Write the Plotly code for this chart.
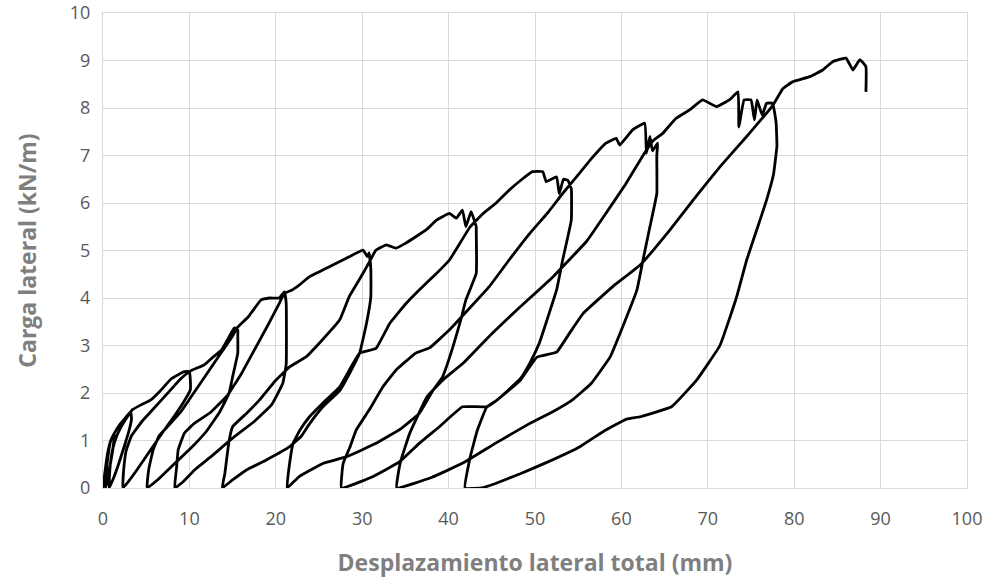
import plotly.graph_objects as go

# ---- data (mm, kN/m), in test order ----
start_x = [0.0, 0.2, 0.5, 0.9, 1.3]
start_y = [0.0, 0.3, 0.7, 1.0, 1.15]
unload0_x = [1.2, 0.9, 0.6, 0.3]
unload0_y = [0.9, 0.55, 0.25, 0.0]
reload0_x = [0.4, 0.6, 0.9, 1.3]
reload0_y = [0.35, 0.7, 1.0, 1.15]
env0_x = [2.0, 2.7, 3.2]
env0_y = [1.35, 1.5, 1.61]
unload1_x = [3.3, 3.0, 2.5, 1.8, 1.2, 0.7]
unload1_y = [1.45, 1.2, 0.9, 0.5, 0.2, 0.0]
reload1_x = [0.8, 1.1, 1.6, 2.3, 3.0, 3.2]
reload1_y = [0.4, 0.8, 1.1, 1.35, 1.55, 1.6]
env1_x = [3.4, 4.4, 5.5, 6.7, 7.9, 9.4, 10.0]
env1_y = [1.65, 1.75, 1.85, 2.06, 2.3, 2.45, 2.45]
unload2_x = [10.1, 10.1, 9.3, 8.2, 7.1, 5.5, 4.0, 3.0, 2.3]
unload2_y = [2.3, 2.06, 1.8, 1.5, 1.22, 0.8, 0.4, 0.15, 0.0]
reload2_x = [2.4, 2.7, 3.3, 4.5, 6.0, 7.5, 9.0, 10.0]
reload2_y = [0.4, 0.8, 1.1, 1.4, 1.7, 2.0, 2.3, 2.45]
env2_x = [10.8, 11.7, 12.7, 13.7, 14.5, 15.2, 15.6]
env2_y = [2.52, 2.59, 2.75, 2.9, 3.15, 3.37, 3.33]
unload3_x = [15.6, 15.6, 15.0, 14.6, 13.5, 12.0, 10.5, 8.5, 6.5, 5.1]
unload3_y = [3.2, 2.84, 2.34, 2.0, 1.6, 1.2, 0.9, 0.55, 0.2, 0.0]
reload3_x = [5.3, 5.8, 6.5, 7.5, 9.0, 10.5, 12.0, 13.5, 15.0, 15.5]
reload3_y = [0.4, 0.8, 1.1, 1.3, 1.6, 2.0, 2.4, 2.8, 3.2, 3.37]
env3_x = [16.8, 18.3, 19.3, 20.4, 21.0]
env3_y = [3.6, 3.96, 4.0, 4.0, 4.13]
unload4_x = [21.2, 21.2, 20.8, 19.5, 17.5, 15.2, 12.5, 10.6, 9.2, 8.3]
unload4_y = [3.9, 2.6, 2.2, 1.75, 1.4, 1.08, 0.66, 0.38, 0.12, 0.0]
reload4_x = [8.5, 8.7, 9.4, 10.5, 12.5, 14.4, 16.0, 17.5, 19.0, 20.3, 21.0]
reload4_y = [0.4, 0.8, 1.15, 1.35, 1.6, 1.95, 2.4, 2.9, 3.4, 3.85, 4.1]
env4_x = [21.9, 22.7, 23.9, 25.0, 26.2, 28.5, 30.1, 30.6, 30.8]
env4_y = [4.17, 4.27, 4.45, 4.55, 4.66, 4.87, 5.01, 4.87, 4.95]
unload5_x = [31.0, 31.0, 30.5, 29.7, 28.5, 27.4, 25.4, 23.9, 23.0, 21.6, 18.9, 16.6, 15.0, 13.8]
unload5_y = [4.6, 4.03, 3.47, 2.84, 2.4, 2.05, 1.7, 1.35, 1.1, 0.87, 0.59, 0.38, 0.17, 0.0]
reload5_x = [14.1, 14.3, 14.6, 15.0, 16.6, 18.1, 20.0, 21.6, 23.5, 25.4, 27.4, 28.5, 30.1, 30.8]
reload5_y = [0.3, 0.59, 1.0, 1.29, 1.57, 1.85, 2.27, 2.55, 2.76, 3.12, 3.54, 4.03, 4.52, 4.75]
env5_x = [31.6, 32.8, 33.9, 35.0, 36.2, 37.5, 38.6, 40.1, 40.9, 41.6, 42.0, 42.6, 43.2]
env5_y = [5.01, 5.12, 5.05, 5.15, 5.29, 5.45, 5.64, 5.78, 5.68, 5.85, 5.5, 5.82, 5.5]
unload6_x = [43.2, 43.2, 42.0, 41.5, 40.5, 39.3, 38.2, 36.6, 34.5, 31.6, 28.2, 25.5, 22.7, 21.3]
unload6_y = [5.4, 4.52, 3.96, 3.6, 2.97, 2.34, 2.06, 1.57, 1.25, 0.94, 0.66, 0.52, 0.24, 0.0]
reload6_x = [21.6, 22.0, 22.8, 23.9, 25.4, 27.4, 28.5, 29.7, 31.6, 33.2, 35.1, 36.6, 38.5, 40.1, 42.5]
reload6_y = [0.52, 0.94, 1.22, 1.5, 1.78, 2.13, 2.48, 2.84, 2.94, 3.47, 3.89, 4.17, 4.5, 4.8, 5.5]
env6_x = [44.0, 45.5, 47.0, 48.5, 49.7, 50.9, 51.3, 52.5, 52.8, 53.3, 53.8]
env6_y = [5.78, 6.0, 6.27, 6.5, 6.66, 6.66, 6.45, 6.55, 6.2, 6.5, 6.48]
unload7_x = [54.2, 54.2, 53.2, 52.5, 51.5, 50.5, 49.4, 48.3, 45.6, 44.4, 41.6, 39.0, 36.6, 34.3, 31.0, 27.6]
unload7_y = [6.3, 5.64, 4.8, 4.17, 3.6, 3.05, 2.63, 2.3, 1.85, 1.71, 1.71, 1.3, 0.94, 0.55, 0.22, 0.0]
reload7_x = [27.8, 28.6, 29.3, 30.8, 32.4, 33.9, 36.2, 37.8, 40.1, 42.5, 44.7, 47.0, 49.4, 51.5, 53.2]
reload7_y = [0.52, 0.87, 1.22, 1.64, 2.13, 2.48, 2.84, 2.95, 3.33, 3.8, 4.24, 4.8, 5.36, 5.8, 6.2]
env7_x = [54.8, 56.7, 58.2, 59.4, 59.8, 61.3, 62.7, 62.9, 63.3, 63.6, 64.2]
env7_y = [6.55, 6.97, 7.26, 7.36, 7.22, 7.54, 7.68, 7.05, 7.4, 7.1, 7.26]
unload8_x = [64.1, 64.1, 63.3, 62.5, 61.8, 60.6, 58.7, 56.5, 54.3, 52.0, 49.4, 45.5, 41.7, 38.0, 34.0]
unload8_y = [7.0, 6.2, 5.5, 4.8, 4.17, 3.6, 2.76, 2.2, 1.85, 1.6, 1.36, 0.95, 0.53, 0.22, 0.0]
reload8_x = [34.4, 35.5, 37.5, 39.5, 41.7, 45.0, 48.2, 52.1, 56.0, 57.9, 60.5, 62.5, 63.6]
reload8_y = [0.53, 1.15, 1.92, 2.3, 2.63, 3.25, 3.8, 4.45, 5.2, 5.7, 6.4, 7.0, 7.3]
env8_x = [64.8, 66.3, 67.9, 69.4, 71.0, 72.5, 73.5, 73.6, 74.2, 75.0, 75.4, 75.7, 76.3, 76.8, 77.5]
env8_y = [7.47, 7.78, 7.96, 8.17, 8.03, 8.17, 8.34, 7.6, 8.17, 8.17, 7.75, 8.17, 7.85, 8.1, 8.1]
unload9_x = [77.9, 78.0, 77.6, 76.8, 75.6, 74.5, 73.3, 71.4, 68.7, 65.8, 62.2, 60.6, 58.0, 55.2, 51.5, 48.3, 45.5, 43.8, 41.9]
unload9_y = [7.7, 7.2, 6.6, 6.06, 5.4, 4.8, 4.0, 3.0, 2.27, 1.71, 1.5, 1.45, 1.2, 0.87, 0.55, 0.3, 0.1, 0.0, 0.0]
reload9_x = [42.5, 43.3, 44.4, 45.6, 48.3, 50.2, 52.5, 54.0, 55.6, 59.0, 62.2, 65.6, 68.3, 71.4, 74.5, 77.5]
reload9_y = [0.65, 1.2, 1.7, 1.85, 2.27, 2.75, 2.86, 3.26, 3.68, 4.24, 4.7, 5.43, 6.06, 6.76, 7.4, 8.05]
env9_x = [78.7, 79.8, 81.8, 83.3, 84.5, 86.0, 86.8, 87.6, 88.3, 88.3]
env9_y = [8.41, 8.55, 8.66, 8.8, 8.98, 9.05, 8.8, 9.02, 8.87, 8.34]

segments_x = [start_x, unload0_x, reload0_x, env0_x, unload1_x, reload1_x, env1_x,
              unload2_x, reload2_x, env2_x, unload3_x, reload3_x, env3_x,
              unload4_x, reload4_x, env4_x, unload5_x, reload5_x, env5_x,
              unload6_x, reload6_x, env6_x, unload7_x, reload7_x, env7_x,
              unload8_x, reload8_x, env8_x, unload9_x, reload9_x, env9_x]
segments_y = [start_y, unload0_y, reload0_y, env0_y, unload1_y, reload1_y, env1_y,
              unload2_y, reload2_y, env2_y, unload3_y, reload3_y, env3_y,
              unload4_y, reload4_y, env4_y, unload5_y, reload5_y, env5_y,
              unload6_y, reload6_y, env6_y, unload7_y, reload7_y, env7_y,
              unload8_y, reload8_y, env8_y, unload9_y, reload9_y, env9_y]

x_all = [v for seg in segments_x for v in seg]
y_all = [v for seg in segments_y for v in seg]

x_ticks = list(range(0, 101, 10))
y_ticks = list(range(0, 11, 1))

fig = go.Figure()
fig.add_trace(go.Scatter(x=x_all, y=y_all, mode="lines",
                         line=dict(color="black", width=2.8, shape="spline", smoothing=0.3),
                         showlegend=False, hoverinfo="skip"))

tick_font = dict(family="Open Sans, Liberation Sans, sans-serif", size=18, color="#595959")
title_font = dict(family="Open Sans, Liberation Sans, sans-serif", size=23, color="#7f7f7f")

fig.update_layout(
    width=999, height=585,
    margin=dict(l=103, r=32, t=13, b=97),
    paper_bgcolor="white", plot_bgcolor="white",
    font=dict(family="Open Sans, Liberation Sans, sans-serif", color="#595959", size=18),
)
fig.update_xaxes(range=[0, 100], tickvals=x_ticks, ticktext=[str(t) for t in x_ticks],
                 showgrid=True, gridcolor="#d9d9d9", gridwidth=1.3, zeroline=False,
                 showline=True, linecolor="#d9d9d9", linewidth=1.3, mirror=True,
                 ticks="", tickfont=tick_font, ticklabelstandoff=14, automargin=False,
                 title=dict(text="<b>Desplazamiento lateral total (mm)</b>",
                            font=title_font, standoff=26))
fig.update_yaxes(range=[0, 10], tickvals=y_ticks, ticktext=[str(t) for t in y_ticks],
                 showgrid=True, gridcolor="#d9d9d9", gridwidth=1.3, zeroline=False,
                 showline=True, linecolor="#d9d9d9", linewidth=1.3, mirror=True,
                 ticks="", tickfont=tick_font, ticklabelstandoff=8, automargin=False,
                 title=dict(text="<b>Carga lateral (kN/m)</b>",
                            font=title_font, standoff=26))

fig.write_html("out.html")
